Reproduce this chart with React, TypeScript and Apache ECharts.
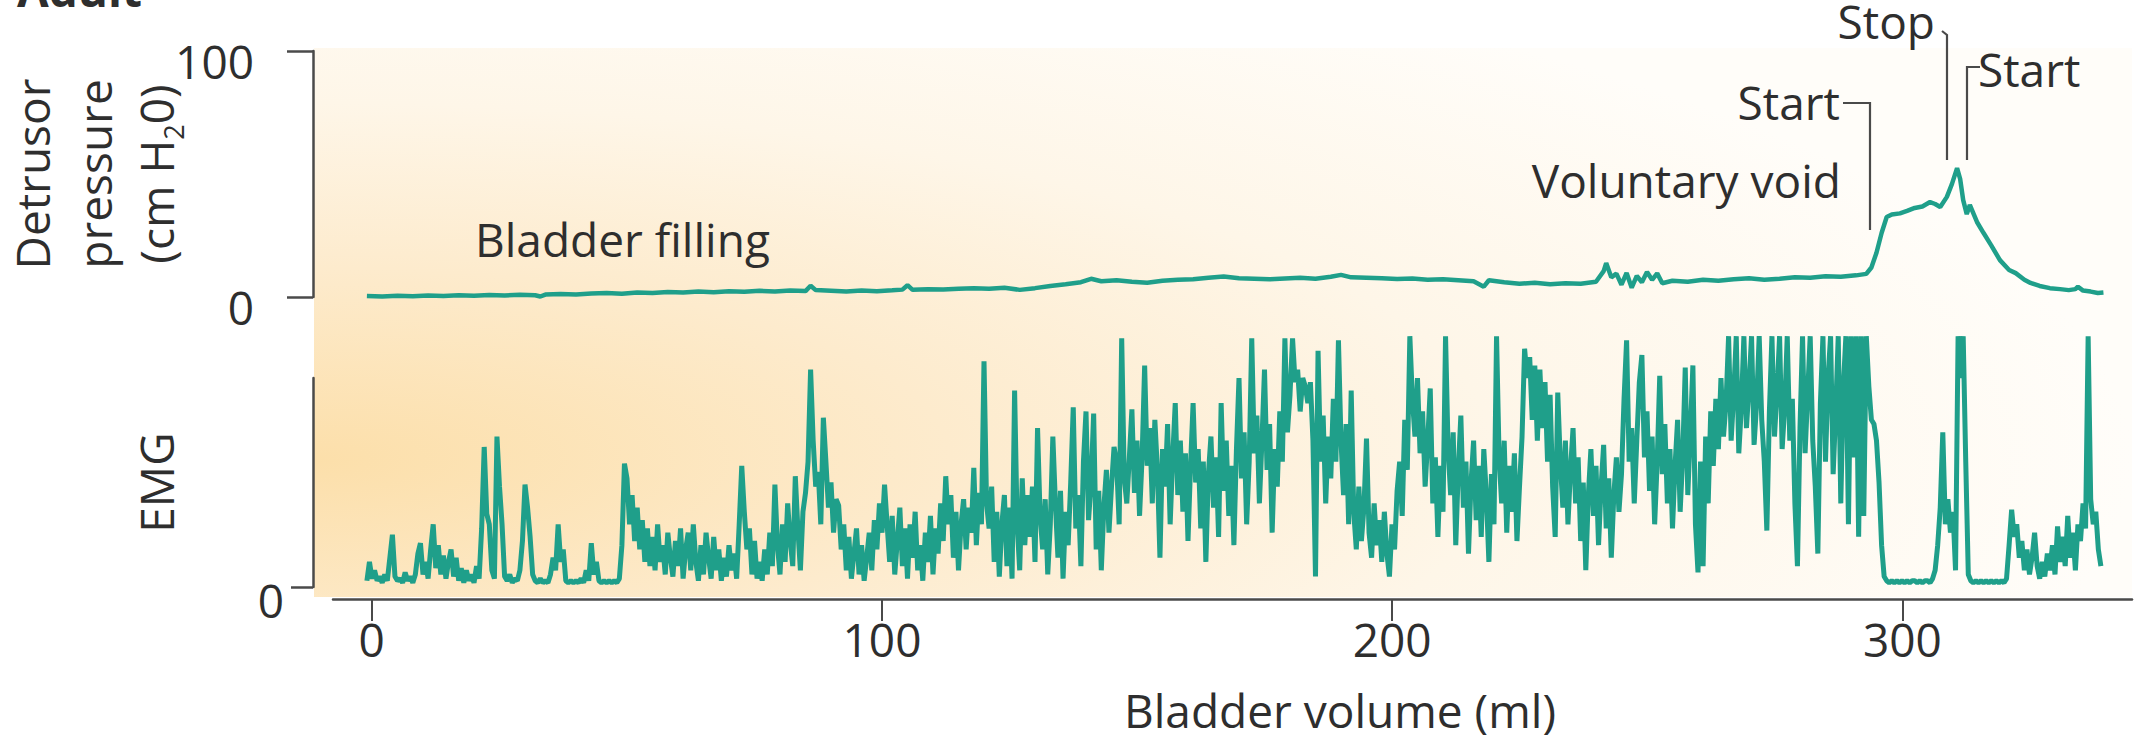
import React, { useEffect, useRef } from 'react';
import * as echarts from 'echarts';

// ---- axis ticks ----
const xTickValues = [0, 100, 200, 300];
const emgTickValues = [0];

// ---- detrusor pressure (cm H2O) vs bladder volume (ml) ----
const pressure: [number, number][] = [
  [-1, 0.4], [2, 0.2], [5, 0.5], [8, 0.3], [11, 0.6], [14, 0.4], [17, 0.7], [20, 0.5], [23, 0.8], [26, 0.6],
  [29, 0.9], [32, 0.7], [33, 0.2], [34, 1.0], [37, 1.2], [40, 1.0], [43, 1.4], [46, 1.6], [49, 1.3], [52, 1.8],
  [55, 1.6], [58, 2.0], [61, 1.8], [64, 2.2], [67, 1.9], [70, 2.3], [73, 2.1], [76, 2.5], [79, 2.2], [82, 2.6],
  [85, 2.4], [86, 4.6], [87, 2.8], [90, 2.5], [93, 2.2], [96, 2.6], [99, 2.3], [102, 2.7], [104, 3.0], [105, 4.8],
  [106, 2.9], [109, 3.2], [112, 3.0], [115, 3.4], [118, 3.6], [121, 3.4], [124, 3.8], [127, 2.9], [130, 3.6], [133, 4.5],
  [136, 5.2], [139, 6.0], [141, 7.4], [143, 6.4], [146, 6.8], [149, 6.2], [152, 5.8], [155, 6.6], [158, 7.0], [161, 7.2],
  [164, 7.8], [167, 8.3], [170, 7.6], [173, 7.4], [176, 7.2], [179, 7.5], [182, 7.8], [185, 7.4], [188, 8.2], [190, 9.0],
  [192, 8.0], [195, 7.8], [198, 7.6], [201, 7.3], [204, 7.5], [207, 7.0], [210, 7.2], [213, 6.8], [216, 6.4], [218, 4.2],
  [219, 6.8], [222, 6.0], [225, 5.4], [228, 5.8], [231, 5.2], [234, 5.6], [237, 5.4], [240, 6.2], [241.5, 10.5], [242, 13.8],
  [243, 8.0], [244, 9.5], [245, 5.0], [246, 9.8], [247, 3.8], [248, 8.6], [249, 6.0], [250, 10.2], [251, 7.0], [252, 9.6],
  [253, 5.6], [255, 6.6], [258, 6.2], [261, 7.0], [264, 6.6], [267, 7.2], [270, 7.6], [273, 7.0], [276, 7.4], [279, 8.0],
  [282, 7.8], [285, 8.4], [288, 8.2], [291, 8.8], [293, 9.4], [294, 12], [295, 18], [296, 26], [297, 32.5], [298, 33.5],
  [299.6, 34], [301, 35], [302.5, 36.2], [304, 36.8], [305.5, 38.6], [306.5, 37.8], [307.5, 36.6], [308.8, 40.7], [309.8, 46], [310.8, 52.4],
  [311.4, 48], [312, 39.4], [312.7, 33.7], [313.3, 37.4], [314.7, 30.5], [316, 26], [317.5, 21], [319.2, 15], [321, 11], [322.3, 9.7],
  [324, 7], [325.2, 5.7], [327, 4.5], [329, 3.6], [331, 3.2], [332.7, 2.8], [334, 3.2], [334.5, 4.2], [335.5, 2.6], [337, 2.2],
  [338.4, 1.6], [339.5, 1.8],
];

// ---- EMG activity, sampled every 0.5 ml from -1 ml ----
const emgStart = -1;
const emgStep = 0.5;
const emg: number[] = [
  3, 12, 4, 8, 3, 5, 2, 6, 3, 14, 25, 5, 3, 4, 2, 7, 3, 5, 2, 6,
  16, 21, 6, 12, 4, 18, 30, 9, 20, 6, 15, 4, 12, 18, 5, 14, 3, 9, 2, 8,
  3, 6, 2, 10, 4, 28, 67, 35, 30, 8, 4, 72, 48, 30, 5, 3, 6, 2, 4, 3,
  8, 22, 49, 38, 24, 6, 3, 2, 4, 2, 3, 2, 6, 14, 8, 30, 12, 18, 3, 2,
  3, 2, 3, 2, 4, 2, 8, 3, 21, 6, 12, 3, 2, 3, 2, 3, 2, 3, 2, 4,
  20, 59, 52, 30, 44, 22, 38, 18, 32, 12, 28, 10, 24, 8, 30, 12, 20, 6, 26, 14,
  5, 22, 10, 28, 4, 18, 26, 8, 30, 12, 3, 20, 6, 26, 14, 4, 24, 8, 18, 3,
  14, 5, 20, 8, 16, 4, 30, 58, 36, 18, 28, 6, 22, 4, 12, 3, 18, 6, 26, 10,
  49, 20, 6, 30, 12, 40, 22, 10, 53, 28, 8, 36, 45, 60, 104, 70, 48, 55, 30, 81,
  60, 38, 50, 26, 42, 39, 18, 30, 8, 24, 4, 16, 28, 6, 20, 3, 14, 26, 8, 32,
  18, 40, 26, 49, 30, 12, 34, 6, 22, 38, 10, 28, 4, 30, 14, 36, 8, 20, 3, 26,
  12, 34, 6, 28, 16, 40, 22, 53, 30, 44, 14, 36, 8, 30, 42, 18, 38, 26, 57, 20,
  45, 30, 108, 40, 28, 48, 12, 36, 5, 30, 44, 10, 38, 4, 94, 30, 8, 52, 20, 44,
  24, 48, 12, 76, 34, 18, 42, 6, 30, 72, 40, 14, 46, 4, 36, 20, 50, 86, 28, 44,
  10, 60, 84, 32, 50, 83, 18, 46, 8, 38, 56, 26, 48, 67, 60, 30, 119, 52, 40, 62,
  85, 45, 70, 34, 62, 106, 58, 76, 40, 80, 56, 14, 66, 48, 78, 30, 62, 88, 44, 70,
  36, 64, 22, 58, 88, 50, 66, 28, 60, 12, 54, 72, 38, 62, 24, 88, 46, 70, 34, 58,
  20, 66, 100, 52, 74, 30, 60, 119, 64, 82, 40, 70, 104, 56, 78, 26, 66, 48, 84, 60,
  119, 74, 92, 119, 98, 104, 84, 100, 96, 88, 98, 70, 5, 113, 60, 82, 40, 72, 52, 90,
  60, 118, 70, 44, 78, 30, 94, 36, 18, 48, 22, 38, 71, 26, 14, 40, 20, 32, 12, 36,
  16, 5, 30, 18, 46, 60, 34, 80, 56, 120, 90, 72, 100, 64, 84, 48, 70, 95, 40, 62,
  24, 58, 36, 120, 66, 44, 74, 20, 56, 82, 38, 60, 16, 50, 70, 32, 58, 24, 66, 44,
  12, 54, 30, 120, 62, 40, 70, 26, 58, 36, 64, 22, 48, 72, 114, 100, 110, 80, 106, 70,
  104, 76, 98, 60, 92, 48, 24, 93, 60, 38, 70, 30, 56, 76, 40, 62, 22, 50, 8, 44,
  66, 34, 58, 20, 48, 68, 28, 52, 14, 44, 62, 36, 54, 90, 118, 60, 76, 40, 70, 98,
  111, 62, 84, 46, 72, 30, 60, 101, 54, 78, 40, 66, 28, 58, 80, 36, 62, 105, 44, 74,
  106, 30, 7, 60, 10, 72, 40, 84, 58, 90, 66, 100, 72, 88, 120, 70, 92, 120, 64, 86,
  120, 76, 96, 120, 68, 88, 120, 80, 60, 27, 84, 120, 72, 94, 120, 66, 86, 120, 70, 90,
  40, 10, 76, 120, 64, 92, 120, 70, 48, 16, 88, 120, 60, 100, 120, 54, 84, 120, 40, 96,
  120, 30, 120, 62, 120, 24, 120, 34, 120, 96, 80, 78, 70, 50, 20, 5, 3, 2, 3, 2,
  3, 2, 3, 2, 3, 2, 3, 3, 2, 3, 2, 3, 3, 2, 4, 8, 20, 38, 74, 30,
  42, 26, 36, 8, 120, 100, 120, 60, 6, 3, 2, 3, 2, 3, 2, 3, 2, 3, 2, 3,
  2, 3, 2, 4, 20, 37, 24, 30, 14, 22, 8, 18, 6, 14, 26, 10, 4, 12, 5, 16,
  8, 20, 6, 29, 12, 24, 10, 34, 14, 26, 8, 30, 22, 40, 28, 120, 42, 30, 36, 18,
  10,
];

const TEAL = '#1f9f8a';
const INK = '#2e2e2e';
const AXIS = '#4a4a4a';
const FONT = '"Open Sans", "Noto Sans", sans-serif';
const FS = 46;

// data grids start at the y-axis lines; the x-axis line starts a little further right
const DATA_X_MIN = -11.57;
const DATA_X_MAX = 345.1;
const AXIS_X_MIN = -7.6;
const AXIS_X_MAX = 345;

export default function App() {
  const ref = useRef<HTMLDivElement>(null);

  useEffect(() => {
    const chart = echarts.init(ref.current!, null, { renderer: 'svg' });
    const emgData = emg.map((v, i) => [emgStart + i * emgStep, v]);

    const textStyleBase = { fontFamily: FONT, fontSize: FS, color: INK };
    const gridBase = { containLabel: false, outerBoundsMode: 'none' };

    chart.setOption({
      animation: false,
      backgroundColor: '#ffffff',
      grid: [
        { ...gridBase, left: 313, right: 17, top: 51, height: 246 },
        { ...gridBase, left: 313, right: 17, top: 378, height: 209 },
        { ...gridBase, left: 333, right: 17, top: 378, height: 221 },
      ],
      xAxis: [
        { gridIndex: 0, type: 'value', min: DATA_X_MIN, max: DATA_X_MAX, show: false },
        { gridIndex: 1, type: 'value', min: DATA_X_MIN, max: DATA_X_MAX, show: false },
        {
          gridIndex: 2,
          type: 'value',
          min: AXIS_X_MIN,
          max: AXIS_X_MAX,
          splitLine: { show: false },
          axisLine: { show: true, onZero: false, lineStyle: { color: AXIS, width: 2.5 } },
          axisTick: { show: true, length: 22, customValues: xTickValues, lineStyle: { color: AXIS, width: 2 } },
          axisLabel: { customValues: xTickValues, margin: 17, ...textStyleBase },
          name: 'Bladder volume (ml)',
          nameLocation: 'middle',
          nameGap: 88,
          nameTextStyle: { ...textStyleBase, padding: [0, 0, 0, 215] },
        },
      ],
      yAxis: [
        {
          gridIndex: 0,
          type: 'value',
          min: 0,
          max: 100,
          interval: 100,
          splitLine: { show: false },
          axisLine: { show: true, onZero: false, lineStyle: { color: AXIS, width: 2.5 } },
          axisTick: { show: true, length: 26, lineStyle: { color: AXIS, width: 2.5 } },
          axisLabel: { margin: 46, verticalAlign: 'top', lineHeight: 20, padding: [0, 13, 0, 0], ...textStyleBase },
          name: 'Detrusor\npressure\n(cm H{sub|2}0)',
          nameLocation: 'middle',
          nameRotate: 90,
          nameGap: 126,
          nameMoveOverlap: false,
          nameTextStyle: {
            ...textStyleBase,
            lineHeight: 62,
            rich: {
              sub: { fontFamily: FONT, fontSize: 27, color: INK, lineHeight: 27, verticalAlign: 'bottom' },
            },
          },
        },
        {
          gridIndex: 1,
          type: 'value',
          min: 0,
          max: 100,
          interval: 100,
          splitLine: { show: false },
          axisLine: { show: true, onZero: false, lineStyle: { color: AXIS, width: 2.5 } },
          axisTick: { show: true, length: 22, customValues: emgTickValues, lineStyle: { color: AXIS, width: 2.5 } },
          axisLabel: { customValues: emgTickValues, margin: 29, verticalAlign: 'top', lineHeight: 26, ...textStyleBase },
          name: 'EMG',
          nameLocation: 'middle',
          nameRotate: 90,
          nameGap: 134,
          nameTextStyle: { ...textStyleBase },
        },
        { gridIndex: 2, type: 'value', min: 0, max: 1, show: false },
      ],
      series: [
        {
          name: 'Detrusor pressure',
          type: 'line',
          xAxisIndex: 0,
          yAxisIndex: 0,
          data: pressure,
          showSymbol: false,
          lineStyle: { color: TEAL, width: 4.5 },
          z: 3,
        },
        {
          name: 'EMG',
          type: 'line',
          xAxisIndex: 1,
          yAxisIndex: 1,
          data: emgData,
          showSymbol: false,
          clip: false,
          lineStyle: { color: TEAL, width: 5 },
          z: 3,
        },
      ],
      graphic: [
        {
          type: 'rect',
          z: -100,
          silent: true,
          shape: { x: 314, y: 48, width: 1818, height: 549 },
          style: {
            fill: new echarts.graphic.RadialGradient(0, 0.75, 1, [
              { offset: 0, color: '#fcdfaa' },
              { offset: 0.35, color: '#fdebcd' },
              { offset: 0.65, color: '#fef6e8' },
              { offset: 1, color: '#fffdf9' },
            ]),
          },
        },
        {
          type: 'text',
          style: { text: 'Adult', x: 17, y: -11, font: `bold ${FS}px ${FONT}`, fill: INK, textAlign: 'left', textVerticalAlign: 'middle' },
        },
        {
          type: 'text',
          style: { text: 'Bladder filling', x: 475, y: 239, font: `${FS}px ${FONT}`, fill: INK, textAlign: 'left', textVerticalAlign: 'middle' },
        },
        {
          type: 'text',
          style: { text: 'Voluntary void', x: 1841, y: 180, font: `${FS}px ${FONT}`, fill: INK, textAlign: 'right', textVerticalAlign: 'middle' },
        },
        {
          type: 'text',
          style: { text: 'Start', x: 1840, y: 102, font: `${FS}px ${FONT}`, fill: INK, textAlign: 'right', textVerticalAlign: 'middle' },
        },
        {
          type: 'text',
          style: { text: 'Stop', x: 1935, y: 21, font: `${FS}px ${FONT}`, fill: INK, textAlign: 'right', textVerticalAlign: 'middle' },
        },
        {
          type: 'text',
          style: { text: 'Start', x: 1978, y: 69, font: `${FS}px ${FONT}`, fill: INK, textAlign: 'left', textVerticalAlign: 'middle' },
        },
        {
          type: 'polyline',
          shape: { points: [[1843, 103], [1870, 103], [1870, 230]] },
          style: { stroke: AXIS, lineWidth: 2.2, fill: null },
        },
        {
          type: 'polyline',
          shape: { points: [[1942, 31], [1947, 35], [1947, 160]] },
          style: { stroke: AXIS, lineWidth: 2.2, fill: null },
        },
        {
          type: 'polyline',
          shape: { points: [[1980, 67], [1967, 67], [1967, 160]] },
          style: { stroke: AXIS, lineWidth: 2.2, fill: null },
        },
      ],
    });

    return () => chart.dispose();
  }, []);

  return (
    <div
      ref={ref}
      style={{ position: 'absolute', left: 0, top: 0, width: 2149, height: 743 }}
    />
  );
}
